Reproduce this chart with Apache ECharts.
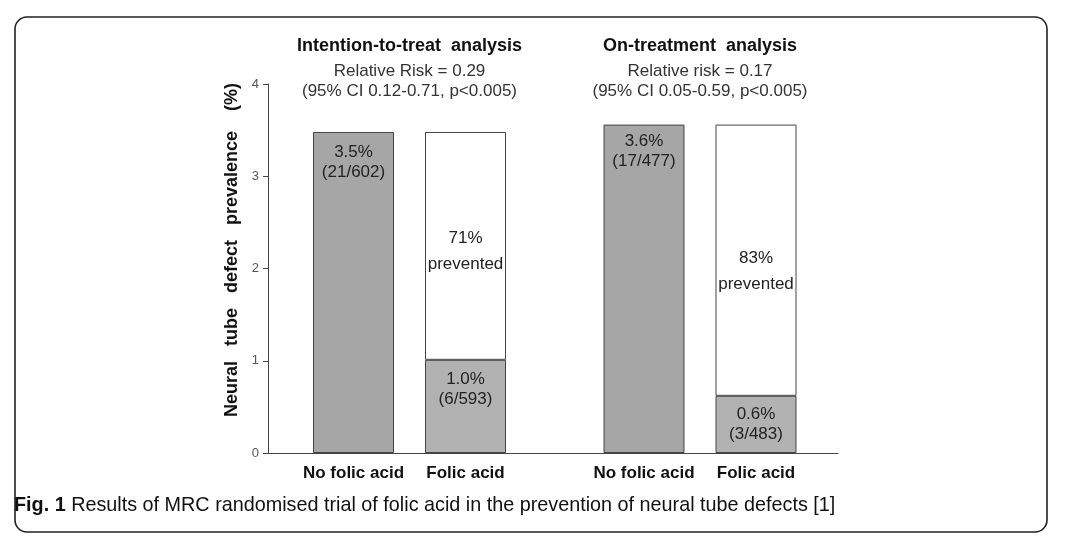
<!DOCTYPE html>
<html>
<head>
<meta charset="utf-8">
<script src="https://cdn.jsdelivr.net/npm/echarts@6/dist/echarts.min.js"></script>
<style>
html,body{margin:0;padding:0;background:#fff;}
#chart{width:1066px;height:556px;}
</style>
</head>
<body>
<div id="chart"></div>
<script>
// ---- data ----
const categories = ['No folic acid', 'Folic acid'];
const groupTitles = ['Intention-to-treat  analysis', 'On-treatment  analysis'];
const groupRR = ['Relative Risk = 0.29', 'Relative risk = 0.17'];
const groupCI = ['(95% CI 0.12-0.71, p<0.005)', '(95% CI 0.05-0.59, p<0.005)'];
// observed NTD prevalence (%) per group: [no folic acid, folic acid]
const prevalenceITT = [3.48, 1.01];
const prevalenceOT = [3.56, 0.62];
const pctLabelsITT = ['3.5%', '1.0%'];
const pctLabelsOT = ['3.6%', '0.6%'];
const countLabelsITT = ['(21/602)', '(6/593)'];
const countLabelsOT = ['(17/477)', '(3/483)'];
const preventedITT = '71%';
const preventedOT = '83%';
const yTicks = [0, 1, 2, 3, 4];
const caption = 'Results of MRC randomised trial of folic acid in the prevention of neural tube defects [1]';

// ---- layout (not data) ----
const FONT = '"Liberation Sans", Arial, sans-serif';
const gridTop = 84, gridHeight = 369;
const axisLeft = 268, axisWidth = 570;
const groupGrids = [{left: 297.5, width: 224}, {left: 588, width: 224}];
const preventedLabelShift = [5, 11];

const chart = echarts.init(document.getElementById('chart'), null, {renderer: 'canvas'});

const groups = [
  {prev: prevalenceITT, pct: pctLabelsITT, cnt: countLabelsITT, prevented: preventedITT},
  {prev: prevalenceOT, pct: pctLabelsOT, cnt: countLabelsOT, prevented: preventedOT}
];

const series = [];
groups.forEach((g, gi) => {
  const control = g.prev[0];
  series.push({
    name: 'Observed ' + gi,
    type: 'bar',
    stack: 's' + gi,
    xAxisIndex: gi + 1,
    yAxisIndex: gi + 1,
    barWidth: 81,
    itemStyle: {borderColor: '#444', borderWidth: 1},
    label: {show: true, fontFamily: FONT, fontSize: 17, color: '#222', lineHeight: 20},
    data: g.prev.map((v, i) => ({
      value: v,
      itemStyle: {color: i === 0 ? '#a6a6a6' : '#b2b2b2'},
      label: {
        position: (gi === 1 && i === 1) ? 'inside' : 'insideTop',
        distance: i === 0 ? (gi === 0 ? 10 : 7) : 9,
        formatter: g.pct[i] + '\n' + g.cnt[i]
      }
    }))
  });
  series.push({
    name: 'Prevented ' + gi,
    type: 'bar',
    stack: 's' + gi,
    xAxisIndex: gi + 1,
    yAxisIndex: gi + 1,
    barWidth: 81,
    itemStyle: {color: '#fff', borderColor: '#444', borderWidth: 1},
    label: {show: true, position: 'inside', offset: [0, preventedLabelShift[gi]],
            fontFamily: FONT, fontSize: 17, color: '#222', lineHeight: 26,
            formatter: g.prevented + '\nprevented'},
    data: g.prev.map((v, i) => i === 0 ? '-' : +(control - v).toFixed(2))
  });
});

const titles = groupTitles.map((t, gi) => ({
  text: t,
  subtext: groupRR[gi] + '\n' + groupCI[gi],
  left: groupGrids[gi].left + groupGrids[gi].width / 2,
  top: 36,
  textAlign: 'center',
  padding: 0,
  itemGap: 5,
  textStyle: {fontFamily: FONT, fontSize: 18, fontWeight: 'bold', color: '#111', lineHeight: 20},
  subtextStyle: {fontFamily: FONT, fontSize: 17, color: '#333', lineHeight: 20}
}));
titles.push({
  text: '{b|Fig. 1} ' + caption,
  left: 14,
  top: 494,
  padding: 0,
  textStyle: {
    fontFamily: FONT, fontSize: 19.8, fontWeight: 'normal', color: '#111', lineHeight: 24,
    rich: {b: {fontFamily: FONT, fontSize: 19.8, fontWeight: 'bold', color: '#111', lineHeight: 24}}
  }
});

const catAxis = (gi) => ({
  type: 'category',
  gridIndex: gi + 1,
  data: categories,
  axisLine: {show: false},
  axisTick: {show: false},
  axisLabel: {interval: 0, hideOverlap: false, margin: 12, fontFamily: FONT, fontSize: 17, fontWeight: 'bold', color: '#111'}
});
const hiddenY = (gi) => ({
  type: 'value', gridIndex: gi + 1,
  min: yTicks[0], max: yTicks[yTicks.length - 1], show: false
});

const option = {
  animation: false,
  backgroundColor: '#fff',
  title: titles,
  graphic: [{
    type: 'rect',
    shape: {x: 15, y: 17, width: 1032, height: 515, r: 12},
    style: {fill: 'none', stroke: '#222', lineWidth: 1.6},
    silent: true
  }],
  grid: [
    {left: axisLeft, top: gridTop, width: axisWidth, height: gridHeight},
    {left: groupGrids[0].left, top: gridTop, width: groupGrids[0].width, height: gridHeight},
    {left: groupGrids[1].left, top: gridTop, width: groupGrids[1].width, height: gridHeight}
  ],
  xAxis: [
    {
      type: 'value', gridIndex: 0, min: 0, max: 1,
      splitLine: {show: false},
      axisLine: {show: true, onZero: false, lineStyle: {color: '#444', width: 1}},
      axisTick: {show: false},
      axisLabel: {show: false}
    },
    catAxis(0), catAxis(1)
  ],
  yAxis: [
    {
      type: 'value', gridIndex: 0,
      min: yTicks[0], max: yTicks[yTicks.length - 1], interval: 1,
      name: 'Neural   tube   defect   prevalence    (%)',
      nameLocation: 'middle',
      nameGap: 24,
      nameTextStyle: {fontFamily: FONT, fontSize: 18, fontWeight: 'bold', color: '#111', padding: [0, 0, 0, 37]},
      splitLine: {show: false},
      axisLine: {show: true, lineStyle: {color: '#444', width: 1}},
      axisTick: {show: true, length: 5, lineStyle: {color: '#444'}},
      axisLabel: {fontFamily: FONT, fontSize: 13, color: '#555', margin: 9}
    },
    hiddenY(0), hiddenY(1)
  ],
  series: series
};
chart.setOption(option);
</script>
</body>
</html>
